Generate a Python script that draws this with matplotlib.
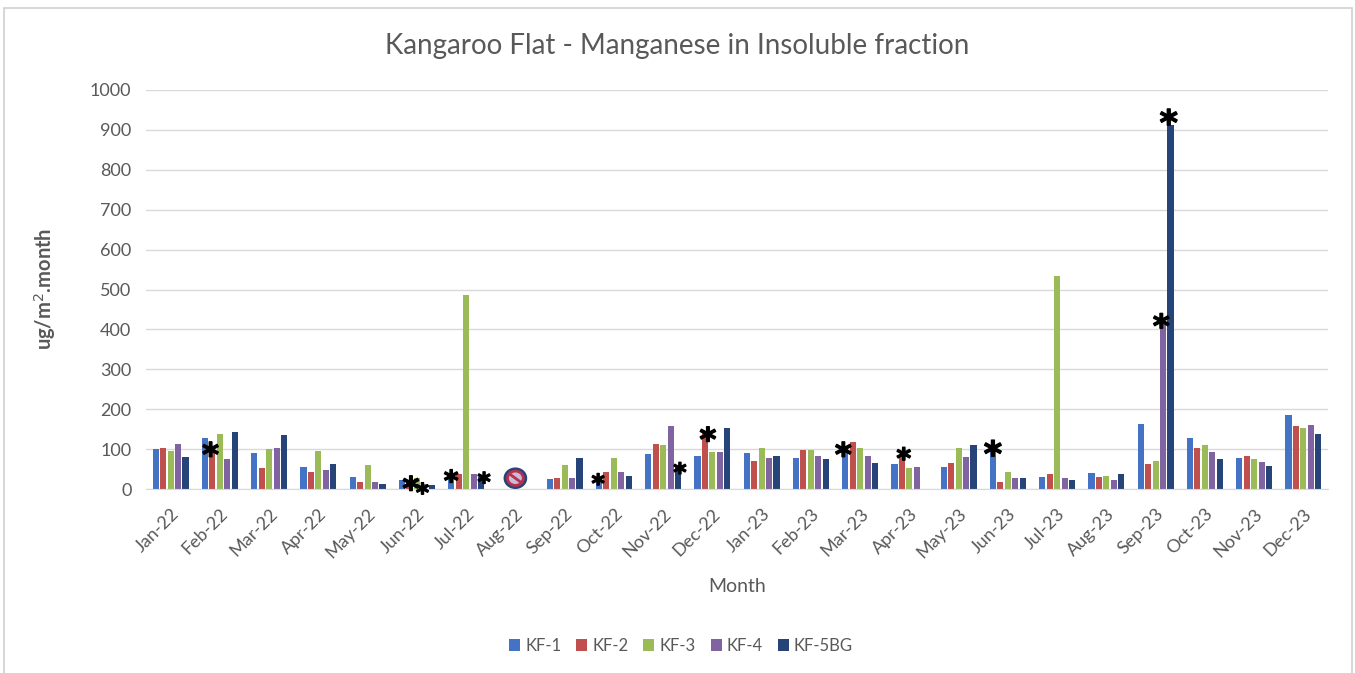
import numpy as np
import matplotlib
matplotlib.use("Agg")
from matplotlib import pyplot as plt
from matplotlib import patheffects
from matplotlib.patches import Ellipse, Rectangle

months = ["Jan-22", "Feb-22", "Mar-22", "Apr-22", "May-22", "Jun-22", "Jul-22", "Aug-22",
          "Sep-22", "Oct-22", "Nov-22", "Dec-22", "Jan-23", "Feb-23", "Mar-23", "Apr-23",
          "May-23", "Jun-23", "Jul-23", "Aug-23", "Sep-23", "Oct-23", "Nov-23", "Dec-23"]

kf1 = [100, 127, 89, 56, 31, 22, 30, 0, 25, 25, 87, 83, 89, 77, 100, 62, 55, 100, 31, 39, 163, 129, 77, 185]
kf2 = [102, 100, 53, 43, 18, 20, 37, 0, 28, 43, 114, 140, 71, 98, 117, 86, 64, 18, 37, 31, 62, 102, 83, 157]
kf3 = [96, 139, 100, 96, 59, 28, 487, 0, 59, 77, 111, 92, 102, 98, 104, 52, 104, 43, 533, 33, 71, 111, 74, 154]
kf4 = [114, 74, 102, 47, 18, 12, 37, 0, 27, 43, 157, 92, 77, 83, 83, 55, 80, 27, 27, 22, 415, 92, 67, 160]
kf5 = [80, 142, 135, 62, 12, 9, 30, 0, 77, 33, 60, 154, 83, 74, 64, 0, 111, 27, 22, 37, 912, 74, 58, 138]

series_names = ["KF-1", "KF-2", "KF-3", "KF-4", "KF-5BG"]
series_values = [kf1, kf2, kf3, kf4, kf5]
colors = ["#4472C4", "#C0504D", "#9BBB59", "#8064A2", "#264478"]

# asterisks: month index, position inside the group (in bars), height, font size
star_month = [1, 5, 5, 6, 6, 9, 10, 11, 14, 15, 17, 20, 20]
star_series = [0.75, 1.2, 2.75, 0, 4.4, -0.1, 4.25, 1.4, -0.25, 1.25, 0, 2.75, 3.75]
star_value = [80, -5, -13, 17, 14, 10, 38, 118, 80, 73, 83, 402, 913]
star_size = [23, 23, 18, 20, 18, 18, 18, 23, 23, 20, 25, 23, 25]

grey = "#595959"
plt.rcParams["font.family"] = ["Lato", "DejaVu Sans"]

W, H = 1355, 673
fig = plt.figure(figsize=(W / 100, H / 100), dpi=100)
frame = Rectangle((4 / W, -0.1), 1348 / W, 0.1 + 665 / H, transform=fig.transFigure,
                  facecolor="white", edgecolor="#CFCFCF", linewidth=1.2, zorder=-1)
fig.add_artist(frame)

ax = fig.add_axes([146 / W, 1 - 489 / H, (1328 - 146) / W, 399 / H])
ax.patch.set_alpha(0)
x = np.arange(len(months))
width = 0.126
step = 0.152
for i, (name, vals) in enumerate(zip(series_names, series_values)):
    ax.bar(x + (i - 2) * step, vals, width=width, color=colors[i], label=name, zorder=2)

ax.set_xlim(-0.5, len(months) - 0.5)
ax.set_ylim(0, 1000)
ax.set_yticks(np.arange(0, 1001, 100))
ax.grid(axis="y", color="#D9D9D9", linewidth=1, zorder=0)
ax.set_axisbelow(True)
for s in ["top", "right", "left"]:
    ax.spines[s].set_visible(False)
ax.spines["bottom"].set_color("#D9D9D9")
ax.tick_params(axis="both", length=0, labelcolor=grey)
ax.tick_params(axis="y", labelsize=13, pad=10.5)
ax.set_xticks(x)
ax.set_xticklabels(months, rotation=45, ha="right", rotation_mode="anchor", fontsize=13)
ax.tick_params(axis="x", pad=12)

for m, s, v, size in zip(star_month, star_series, star_value, star_size):
    t = ax.text(m + (s - 2) * step, v, "*", fontsize=size, fontweight="bold", color="black",
                ha="center", va="center", family="DejaVu Sans", zorder=5, clip_on=False)
    t.set_path_effects([patheffects.withStroke(linewidth=1, foreground="black")])

# no data sign for Aug-22
ax.add_patch(Ellipse((7, 27), 0.48, 54, facecolor="#264478", edgecolor="none", zorder=4))
ax.add_patch(Ellipse((7, 27), 0.32, 36, facecolor="#C9BCD8", edgecolor="#B8304D", linewidth=2, zorder=5))
ax.plot([6.89, 7.11], [37, 17], color="#B8304D", linewidth=2, zorder=6)

fig.text(677 / W, 1 - 46 / H, "Kangaroo Flat - Manganese in Insoluble fraction",
         ha="center", va="center", fontsize=20, color=grey)
fig.text(45 / W, 1 - 289 / H, "ug/m$^{2}$.month", rotation=90, ha="center", va="center",
         fontsize=14.5, color=grey, fontweight="bold")
fig.text(737 / W, 1 - 587 / H, "Month", ha="center", va="center", fontsize=14, color=grey)

fig.legend(loc="center", bbox_to_anchor=(681 / W, 1 - 646 / H), ncol=5, frameon=False,
           fontsize=12, labelcolor=grey, handlelength=0.66, handleheight=0.72,
           handletextpad=0.3, columnspacing=0.9)

fig.savefig("out.png", dpi=100)
